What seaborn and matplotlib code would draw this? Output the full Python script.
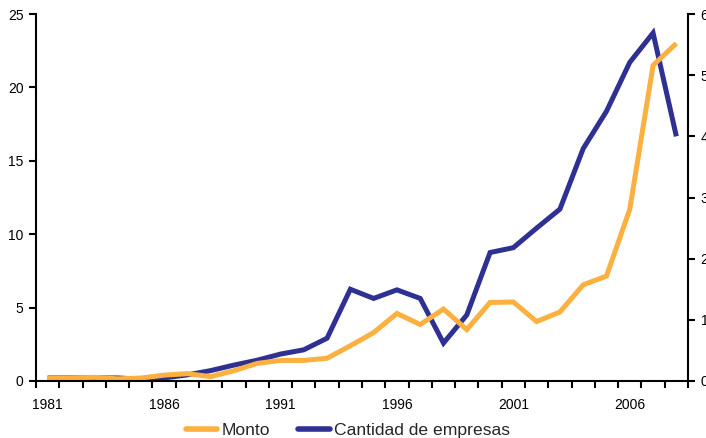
import matplotlib
matplotlib.use("Agg")
import matplotlib.pyplot as plt
from matplotlib.ticker import FixedLocator, NullFormatter
from matplotlib.lines import Line2D
import seaborn as sns
import pandas as pd

years = list(range(1981, 2009))
monto = [0.2, 0.2, 0.25, 0.15, 0.2, 0.4, 0.5, 0.3, 0.7, 1.2,
         1.4, 1.4, 1.55, 2.4, 3.3, 4.6, 3.85, 4.9, 3.5, 5.35,
         5.38, 4.05, 4.7, 6.55, 7.15, 11.7, 21.5, 23.0]
empresas = [0.05, 0.05, 0.05, 0.05, 0.03, 0.05, 0.10, 0.17, 0.26, 0.34,
            0.44, 0.51, 0.70, 1.50, 1.35, 1.49, 1.35, 0.62, 1.08, 2.10,
            2.18, 2.50, 2.81, 3.80, 4.41, 5.21, 5.69, 4.00]
tick_years = [1981, 1986, 1991, 1996, 2001, 2006]

c_monto = "#FBB040"
c_emp = "#2E3192"

sns.set_style("ticks")
plt.rcParams["font.family"] = ["Liberation Sans", "DejaVu Sans"]

df = pd.DataFrame({"pos": range(len(years)), "year": years,
                   "monto": monto, "empresas": empresas})

fig = plt.figure(figsize=(7.06, 4.38), dpi=100)
ax = fig.add_axes([36 / 706, 1 - 381 / 438, (688 - 36) / 706, (381 - 14) / 438])
ax2 = ax.twinx()

sns.lineplot(data=df, x="pos", y="empresas", ax=ax2, color=c_emp, lw=3.6,
             solid_joinstyle="miter", solid_capstyle="butt")
sns.lineplot(data=df, x="pos", y="monto", ax=ax, color=c_monto, lw=3.6,
             solid_joinstyle="miter", solid_capstyle="butt")

# orange series drawn above the blue one
ax.set_zorder(ax2.get_zorder() + 1)
ax.patch.set_visible(False)

n = len(years)
ax.set_xlim(-0.5, n - 0.5)
ax.set_ylim(0, 25)
ax2.set_ylim(0, 6)
ax.set_yticks(range(0, 26, 5))
ax2.set_yticks(range(0, 7))

ax.set_xticks([years.index(y) for y in tick_years])
ax.set_xticklabels([str(y) for y in tick_years])
ax.tick_params(axis="x", which="major", length=0, pad=12)
ax.xaxis.set_minor_locator(FixedLocator([i - 0.5 for i in range(n + 1)]))
ax.xaxis.set_minor_formatter(NullFormatter())
ax.tick_params(axis="x", which="minor", length=5, width=1.5, color="black")
ax.tick_params(axis="y", length=5, width=1.5, color="black", pad=4)
ax2.tick_params(axis="y", length=5, width=1.5, color="black", pad=4)

for a in (ax, ax2):
    a.set_xlabel("")
    a.set_ylabel("")
    a.tick_params(labelsize=10, labelcolor="black")
    for s in a.spines.values():
        s.set_linewidth(1.5)
        s.set_color("black")
    a.spines["top"].set_visible(False)
ax.spines["right"].set_visible(False)
ax2.spines["left"].set_visible(False)
ax2.spines["bottom"].set_visible(False)
for t in ax2.get_yticklabels():
    t.set_horizontalalignment("left")

handles = [Line2D([], [], color=c_monto, lw=4),
           Line2D([], [], color=c_emp, lw=4)]
fig.legend(handles, ["Monto", "Cantidad de empresas"], loc="center",
           bbox_to_anchor=(348 / 706, 1 - 430 / 438), ncol=2, frameon=False,
           fontsize=12.6, handlelength=1.8, handletextpad=0.25,
           columnspacing=1.6, borderpad=0, borderaxespad=0)

fig.savefig("out.png", dpi=100)
